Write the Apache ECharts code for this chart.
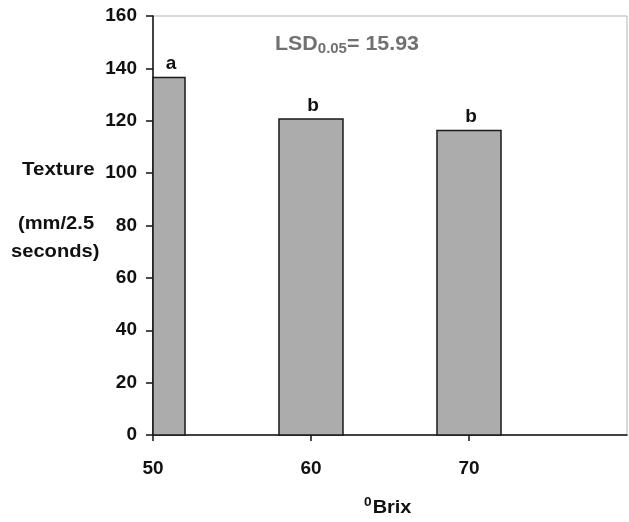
<!DOCTYPE html>
<html>
<head>
<meta charset="utf-8">
<script src="https://cdn.jsdelivr.net/npm/echarts@6/dist/echarts.min.js"></script>
<style>html,body{margin:0;padding:0;background:#fff}#c{width:629px;height:522px}</style>
</head>
<body>
<div id="c"></div>
<script>
var brix = [50, 60, 70];
var texture = [136.5, 120.7, 116.3];
var letters = ['a', 'b', 'b'];
var yTicks = [0, 20, 40, 60, 80, 100, 120, 140, 160];

var FONT = '"Liberation Sans", Arial, sans-serif';
var BAR_W = 64;
var chart = echarts.init(document.getElementById('c'));
var data = brix.map(function (b, i) { return [b, texture[i]]; });

function renderBar(params, api) {
  var x = api.value(0), y = api.value(1);
  var base = api.coord([x, 0]);
  var top = api.coord([x, y]);
  var cs = params.coordSys;
  var rect = echarts.graphic.clipRectByRect(
    { x: base[0] - BAR_W / 2, y: top[1], width: BAR_W, height: base[1] - top[1] },
    { x: cs.x, y: cs.y, width: cs.width, height: cs.height }
  );
  if (!rect) return;
  return {
    type: 'group',
    children: [
      { type: 'rect', shape: rect, style: { fill: '#acacac', stroke: '#1a1a1a', lineWidth: 1.5 } },
      { type: 'text', x: rect.x + rect.width / 2 + 2, y: rect.y - 4,
        style: { text: letters[params.dataIndex], fill: '#111', font: 'bold 19px ' + FONT, align: 'center', verticalAlign: 'bottom' } }
    ]
  };
}

chart.setOption({
  animation: false,
  grid: { left: 153, right: 2, top: 16, bottom: 87, show: true, borderColor: '#b5b5b5', borderWidth: 1 },
  xAxis: {
    type: 'value', min: 50, max: 80, interval: 10,
    axisLine: { lineStyle: { color: '#111', width: 1.5 } },
    axisTick: { show: true, inside: false, length: 6, lineStyle: { color: '#111', width: 1.5 } },
    axisLabel: { showMaxLabel: false, margin: 24, color: '#111', fontSize: 19, fontWeight: 'bold', fontFamily: FONT },
    splitLine: { show: false }
  },
  yAxis: {
    type: 'value', min: yTicks[0], max: yTicks[yTicks.length - 1], interval: 20,
    axisLine: { show: true, lineStyle: { color: '#111', width: 1.5 } },
    axisTick: { show: true, inside: false, length: 7, lineStyle: { color: '#111', width: 1.5 } },
    axisLabel: { margin: 16, color: '#111', fontSize: 19, fontWeight: 'bold', fontFamily: FONT },
    splitLine: { show: false }
  },
  series: [{
    type: 'custom',
    data: data,
    encode: { x: 0, y: 1 },
    renderItem: renderBar,
    z: 1
  }],
  graphic: [
    { type: 'text', left: 22, top: 160, scaleX: 1.08, style: { text: 'Texture', fill: '#111', font: 'bold 19px ' + FONT } },
    { type: 'text', left: 18, top: 214, scaleX: 1.06, style: { text: '(mm/2.5', fill: '#111', font: 'bold 19px ' + FONT } },
    { type: 'text', left: 11, top: 242, scaleX: 1.06, style: { text: 'seconds)', fill: '#111', font: 'bold 19px ' + FONT } },
    { type: 'text', left: 275, top: 34, scaleX: 1.07, style: {
      rich: {
        m: { fill: '#707070', font: 'bold 20px ' + FONT },
        s: { fill: '#707070', font: 'bold 14px ' + FONT, padding: [10, 0, 0, 0] }
      },
      text: '{m|LSD}{s|0.05}{m|= 15.93}'
    } },
    { type: 'text', left: 364, top: 496, scaleX: 1.05, style: {
      rich: {
        s: { fill: '#111', font: 'bold 13px ' + FONT, padding: [0, 1, 10, 0] },
        m: { fill: '#111', font: 'bold 19px ' + FONT }
      },
      text: '{s|0}{m|Brix}'
    } }
  ]
});
</script>
</body>
</html>
